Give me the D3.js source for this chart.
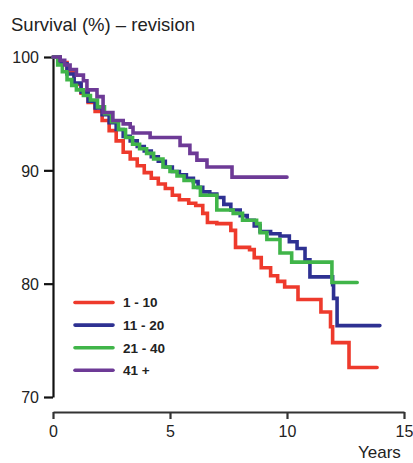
<!DOCTYPE html>
<html>
<head>
<meta charset="utf-8">
<script src="https://cdn.jsdelivr.net/npm/d3@7"></script>
<style>
  body { margin: 0; background: #fff; }
  text { font-family: "Liberation Sans", Arial, sans-serif; fill: #222; }
</style>
</head>
<body>
<div id="chart"></div>
<script>
// step times (years) and survival (%); last time = end of follow-up
var groups = ["1 - 10", "11 - 20", "21 - 40", "41 +"];
var colors = ["#ee3a2c", "#2e3192", "#40b549", "#6d3a96"];

var redT = [0, 0.3, 0.6, 0.9, 1.2, 1.5, 1.8, 2.1, 2.4, 2.7, 3.0, 3.3, 3.6, 3.9, 4.2, 4.5, 4.8, 5.1, 5.4, 5.8, 6.1, 6.4, 6.6, 7.0, 7.6, 7.8, 8.4, 8.6, 8.9, 9.3, 9.6, 9.9, 10.47, 11.45, 11.86, 11.95, 12.65, 13.85];
var redS = [100, 99.5, 98.6, 97.6, 96.8, 96.0, 95.2, 94.4, 93.5, 92.6, 91.6, 91.0, 90.4, 89.8, 89.3, 88.8, 88.4, 87.8, 87.4, 87.1, 86.9, 86.2, 85.4, 85.3, 84.7, 83.2, 83.0, 82.3, 81.4, 80.7, 80.2, 79.7, 78.6, 77.5, 76.2, 74.8, 72.6, 72.6];

var blueT = [0, 0.3, 0.6, 0.9, 1.2, 1.5, 1.8, 2.1, 2.4, 2.7, 3.0, 3.3, 3.6, 3.9, 4.2, 4.5, 4.8, 5.1, 5.4, 5.7, 6.0, 6.2, 6.4, 6.7, 7.0, 7.3, 7.6, 8.0, 8.3, 8.6, 8.85, 9.3, 9.7, 10.1, 10.43, 10.77, 10.98, 11.95, 11.99, 12.14, 13.97];
var blueS = [100, 99.4, 98.5, 97.7, 96.9, 96.1, 95.5, 94.9, 94.2, 93.6, 93.0, 92.6, 92.1, 91.7, 91.2, 90.8, 90.3, 89.9, 89.6, 89.3, 89.0, 88.5, 88.1, 87.9, 87.6, 87.0, 86.5, 86.0, 85.6, 85.1, 84.6, 84.4, 84.2, 83.7, 83.1, 82.1, 80.6, 79.9, 78.7, 76.3, 76.3];

var greenT = [0, 0.2, 0.4, 0.6, 0.8, 1.0, 1.3, 1.6, 1.9, 2.2, 2.5, 2.8, 3.1, 3.4, 3.7, 4.0, 4.3, 4.7, 5.0, 5.3, 5.6, 6.0, 6.3, 7.0, 7.7, 8.1, 8.7, 8.85, 9.14, 9.7, 10.2, 11.92, 13.0];
var greenS = [100, 99.3, 98.7, 98.0, 97.5, 97.1, 96.6, 96.2, 95.6, 95.0, 94.3, 93.6, 92.9, 92.3, 91.9, 91.5, 91.0, 90.3, 89.9, 89.5, 89.1, 88.5, 87.8, 86.5, 86.2, 85.6, 85.3, 84.5, 83.9, 82.7, 81.9, 80.1, 80.1];

var purpleT = [0, 0.3, 0.5, 0.73, 1.0, 1.3, 1.45, 1.88, 2.14, 2.56, 3.0, 3.3, 3.42, 4.15, 5.43, 5.85, 6.15, 6.58, 7.65, 10.0];
var purpleS = [100, 99.7, 99.3, 98.9, 98.4, 97.9, 97.1, 96.5, 95.1, 94.4, 94.1, 93.8, 93.3, 92.9, 92.2, 91.5, 90.9, 90.3, 89.4, 89.4];

var xTicks = [0, 5, 10, 15];
var yTicks = [70, 80, 90, 100];

var width = 413;
var height = 463;

var series = [
  {name: groups[0], color: colors[0], t: redT, s: redS},
  {name: groups[1], color: colors[1], t: blueT, s: blueS},
  {name: groups[2], color: colors[2], t: greenT, s: greenS},
  {name: groups[3], color: colors[3], t: purpleT, s: purpleS}
];

var svg = d3.select("#chart")
  .append("svg")
    .attr("width", width)
    .attr("height", height);

var x = d3.scaleLinear().domain([0, 15]).range([53, 404]);
var y = d3.scaleLinear().domain([70, 100]).range([397, 57]);

// title
svg.append("text")
  .attr("x", 11)
  .attr("y", 31)
  .style("font-size", "18.5px")
  .text("Survival (%) \u2013 revision");

// y axis
var yAxis = svg.append("g")
  .attr("transform", "translate(" + x(0) + ",0)")
  .call(d3.axisLeft(y).tickValues(yTicks).tickSizeInner(9).tickSizeOuter(0).tickPadding(5));
yAxis.select(".domain").attr("stroke", "#111").attr("stroke-width", 2.2);
yAxis.selectAll(".tick line").attr("stroke", "#111").attr("stroke-width", 2.2);
yAxis.selectAll(".tick text")
  .style("font-size", "16px")
  .style("font-family", "'Liberation Sans', Arial, sans-serif")
  .attr("fill", "#222")
  .attr("dy", "0.36em");

// x axis, detached below the plot
var xAxis = svg.append("g")
  .attr("transform", "translate(0,412)")
  .call(d3.axisBottom(x).tickValues(xTicks).tickSizeInner(7).tickSizeOuter(0).tickPadding(7));
xAxis.select(".domain").attr("stroke", "#333").attr("stroke-width", 2.2);
xAxis.selectAll(".tick line").attr("stroke", "#333").attr("stroke-width", 2.2);
xAxis.selectAll(".tick text")
  .style("font-size", "16px")
  .style("font-family", "'Liberation Sans', Arial, sans-serif")
  .attr("fill", "#222");

svg.append("text")
  .attr("x", 358)
  .attr("y", 458)
  .style("font-size", "17px")
  .text("Years");

// survival curves
var line = d3.line()
  .x(function(d) { return x(d[0]); })
  .y(function(d) { return y(d[1]); })
  .curve(d3.curveStepAfter);

svg.selectAll(".curve")
  .data(series)
  .enter()
  .append("path")
    .attr("class", "curve")
    .attr("fill", "none")
    .attr("stroke", function(d) { return d.color; })
    .attr("stroke-width", 3.6)
    .attr("stroke-linecap", "round")
    .attr("d", function(d) { return line(d3.zip(d.t, d.s)); });

// legend
var legend = svg.selectAll(".legend")
  .data(series)
  .enter()
  .append("g")
    .attr("class", "legend")
    .attr("transform", function(d, i) { return "translate(75," + (302.5 + i * 22.6) + ")"; });

legend.append("line")
  .attr("x1", 0)
  .attr("x2", 38)
  .attr("stroke", function(d) { return d.color; })
  .attr("stroke-width", 3.6)
  .attr("stroke-linecap", "round");

legend.append("text")
  .attr("x", 48)
  .attr("dy", "0.36em")
  .style("font-size", "13.5px")
  .style("font-weight", "bold")
  .text(function(d) { return d.name; });
</script>
</body>
</html>
